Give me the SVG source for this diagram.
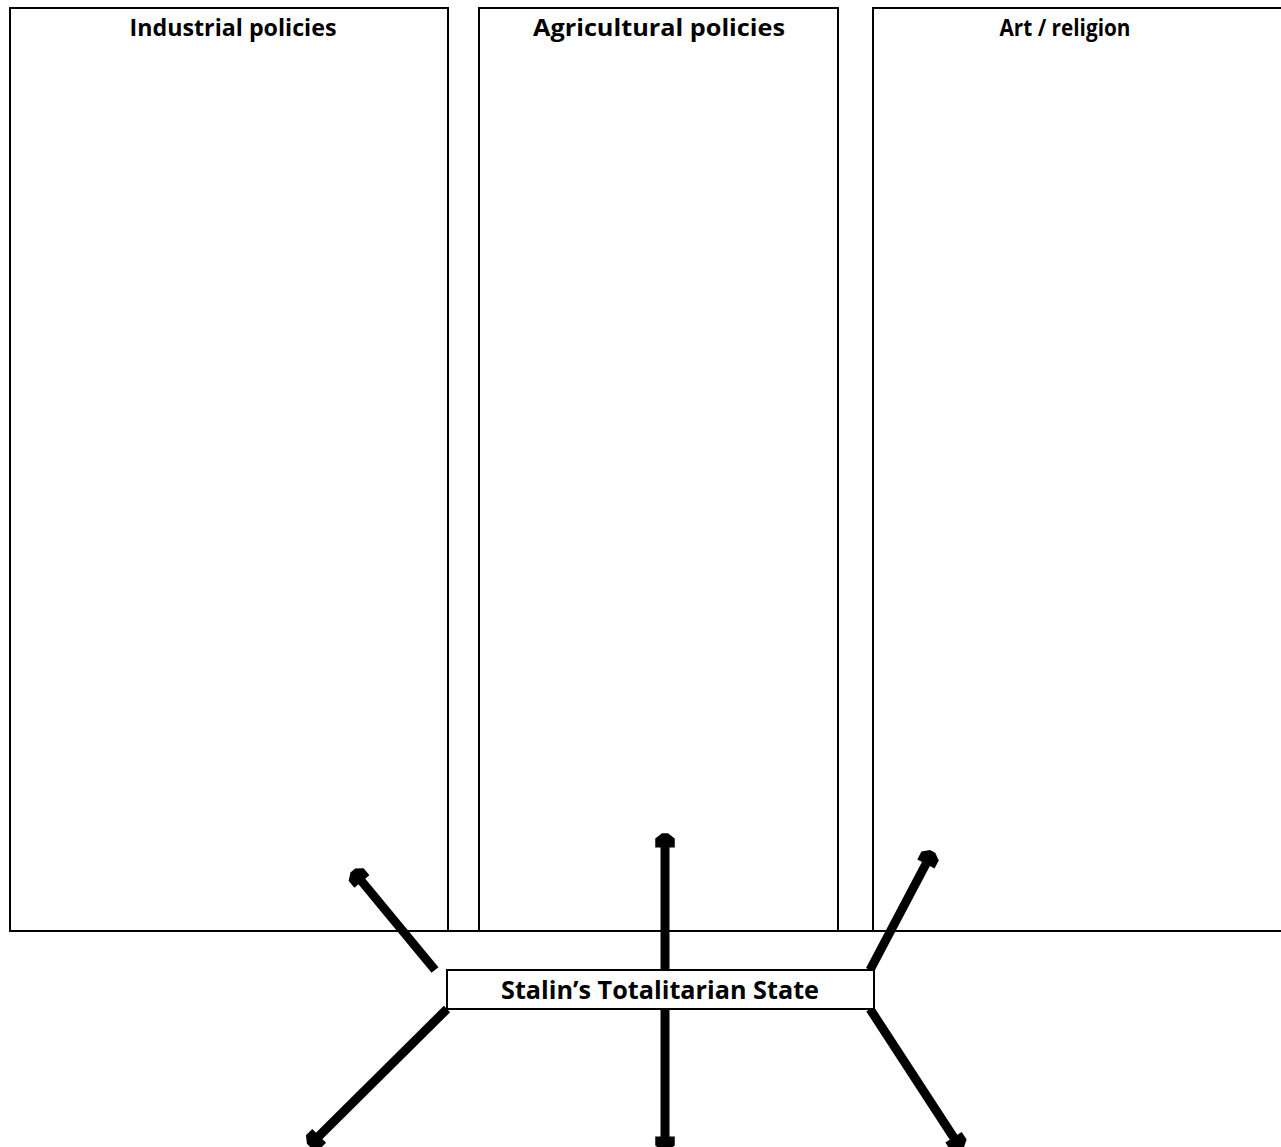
<svg xmlns="http://www.w3.org/2000/svg" width="1281" height="1147" viewBox="0 0 1281 1147">
<style>
.box{fill:#fff;stroke:#000;stroke-width:2}
.title{font-family:"Open Sans","Liberation Sans",sans-serif;font-weight:bold;font-size:22.5px;fill:#000;text-anchor:middle}
.label{font-size:24.5px}
.arrow{stroke:#000;stroke-width:9;fill:none;marker-end:url(#head)}
</style>
<defs>
<marker id="head" markerUnits="userSpaceOnUse" markerWidth="30" markerHeight="30" viewBox="-10 -10 20 20" refX="0" refY="0" orient="auto" overflow="visible">
<path d="M-3,-6.5 L3,-6.5 L6.5,-2 L6.5,2 L3,6.5 L-3,6.5 Z" fill="#000"/>
</marker>
</defs>
<rect width="1281" height="1147" fill="#fff"/>
<g id="industrial">
<rect class="box" x="10" y="8" width="438" height="923"/>
<text class="title" x="233" y="36" textLength="207" lengthAdjust="spacingAndGlyphs">Industrial policies</text>
</g>
<g id="agricultural">
<rect class="box" x="479" y="8" width="359" height="923"/>
<text class="title" x="659" y="36" textLength="252" lengthAdjust="spacingAndGlyphs">Agricultural policies</text>
</g>
<g id="art">
<rect class="box" x="873" y="8" width="420" height="923"/>
<text class="title" x="1065" y="36" textLength="131" lengthAdjust="spacingAndGlyphs">Art / religion</text>
</g>
<line x1="10" y1="931" x2="1281" y2="931" stroke="#000" stroke-width="2"/>
<g id="connectors">
<line class="arrow" x1="435" y1="970" x2="359" y2="878"/>
<line class="arrow" x1="665" y1="970" x2="665" y2="843"/>
<line class="arrow" x1="870" y1="970" x2="928" y2="860"/>
<line class="arrow" x1="447" y1="1009" x2="316" y2="1139"/>
<line class="arrow" x1="665" y1="1009" x2="665" y2="1141"/>
<line class="arrow" x1="870" y1="1009" x2="956" y2="1141"/>
</g>
<g id="center">
<rect class="box" x="447" y="970" width="427" height="39"/>
<text class="title label" x="660" y="999" textLength="318" lengthAdjust="spacingAndGlyphs">Stalin’s Totalitarian State</text>
</g>
</svg>
